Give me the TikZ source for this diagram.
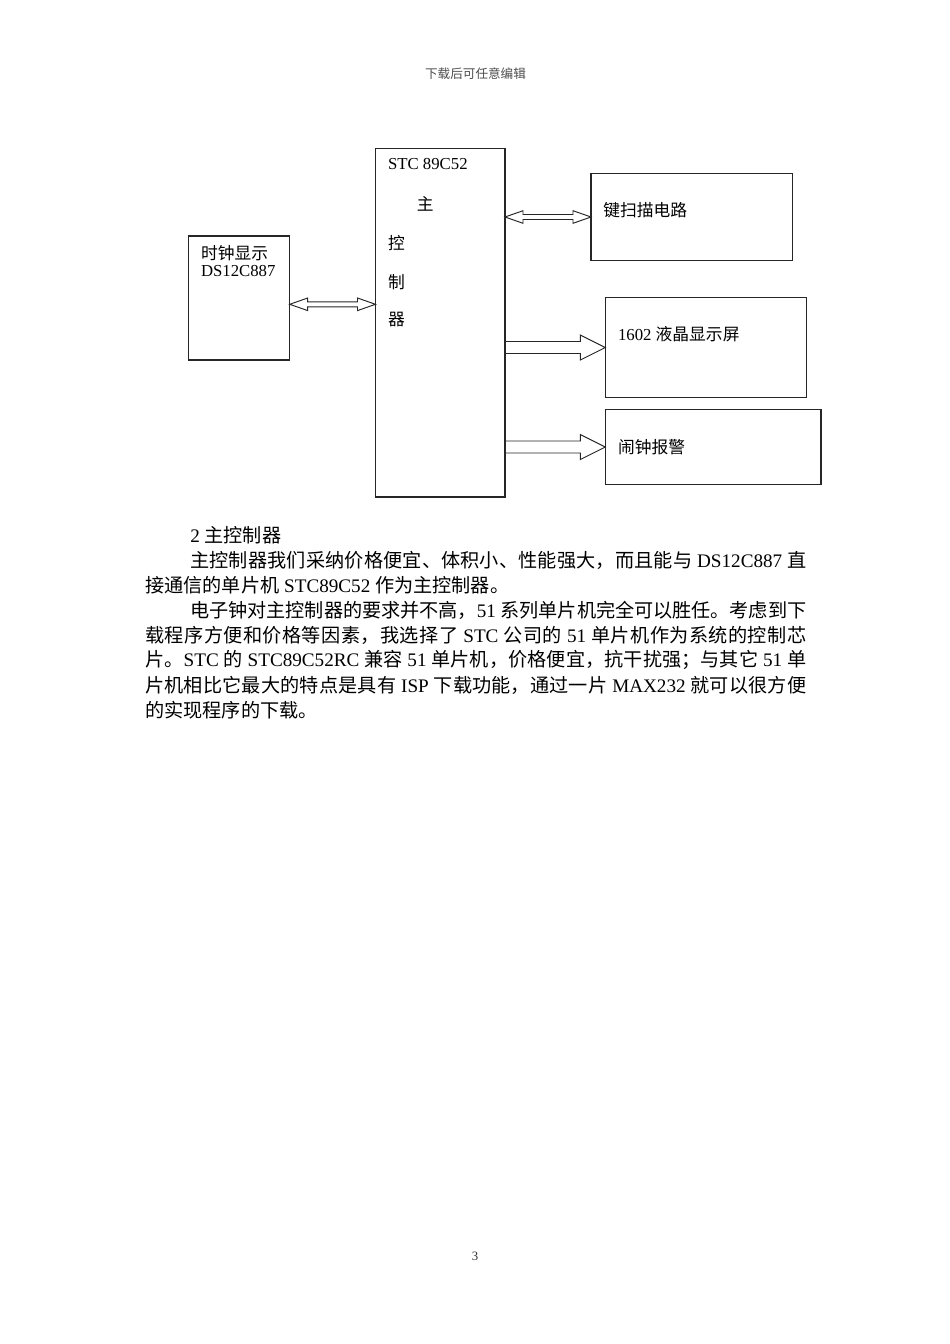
\documentclass[tikz,border=0pt]{standalone}
\usepackage{fontspec}
\setmainfont{Liberation Serif}
\newfontfamily\cjkfont{Noto Sans CJK SC}
\usetikzlibrary{calc}

% CJK characters get their own font and a little stretch between them
\chardef\cjkclass=7
\newcount\cjkcnt
\newcommand\setcjkrange[2]{%
  \cjkcnt=#1\relax
  \loop
    \XeTeXcharclass\cjkcnt=\cjkclass
  \ifnum\cjkcnt<#2\relax \advance\cjkcnt by 1 \repeat}
\setcjkrange{"3000}{"303F}
\setcjkrange{"4E00}{"9FFF}
\setcjkrange{"FF00}{"FFEF}
\XeTeXinterchartokenstate=1
\XeTeXinterchartoks 0 \cjkclass = {\cjkfont}
\XeTeXinterchartoks 4095 \cjkclass = {\cjkfont}
\XeTeXinterchartoks \cjkclass 0 = {\rmfamily}
\XeTeXinterchartoks \cjkclass 4095 = {\rmfamily}
\XeTeXinterchartoks \cjkclass \cjkclass = {\hskip0pt plus 2pt minus 0.5pt}

\newdimen\pxu
\pxu=0.6266pt

\tikzset{
  box/.style={draw=black!85, line width=0.7pt, inner sep=0pt, outer sep=0pt, anchor=north west},
  label/.style={anchor=west, inner sep=0pt},
  bodyline/.style={anchor=west, inner sep=0pt, font=\fontsize{12}{15}\selectfont},
  arrowline/.style={draw=black!85, line width=0.6pt, line join=miter}
}

\newcommand\blockarrow[2]{%
  \draw[arrowline] ($#1+(0,-6)$) -- ($#2+(-25,-6)$) -- ($#2+(-25,-12.5)$) -- #2
    -- ($#2+(-25,12.5)$) -- ($#2+(-25,6)$) -- ($#1+(0,6)$) -- cycle;}
\newcommand\dblarrow[2]{%
  \draw[arrowline] #1 -- ($#1+(18,-6.3)$) -- ($#1+(18,-2.5)$) -- ($#2+(-18,-2.5)$)
    -- ($#2+(-18,-6.3)$) -- #2 -- ($#2+(-18,6.3)$) -- ($#2+(-18,2.5)$)
    -- ($#1+(18,2.5)$) -- ($#1+(18,6.3)$) -- cycle;}

\begin{document}
\begin{tikzpicture}[x=0.6266pt, y=-0.6266pt, font=\fontsize{10.5}{13}\selectfont]
    \useasboundingbox (0,0) rectangle (950,1344);

    \node[inner sep=0pt, text=black!70, font=\fontsize{7.9}{9}\selectfont] (header) at (475.5,74) {下载后可任意编辑};

    \node[box, minimum width=101*\pxu, minimum height=124*\pxu] (clock) at (188.7,236) {};
    \node[box, minimum width=129.5*\pxu, minimum height=348.5*\pxu] (mcu) at (375.5,148.5) {};
    \node[box, minimum width=201.3*\pxu, minimum height=87.4*\pxu] (key) at (591,173.3) {};
    \node[box, minimum width=201*\pxu, minimum height=99.6*\pxu] (lcd) at (605.3,297.7) {};
    \node[box, minimum width=215.7*\pxu, minimum height=74.6*\pxu] (alarm) at (605.3,409.7) {};

    \node[label] (mcuname) at (387.7,164) {STC 89C52};
    \node[label] (mcuzhu) at (416.5,204) {主};
    \node[label] (mcukong) at (387.7,242.7) {控};
    \node[label] (mcuzhi) at (387.7,281.7) {制};
    \node[label] (mcuqi) at (387.7,320) {器};

    \node[label] (clockname) at (200.7,253.3) {时钟显示};
    \node[label] (clockchip) at (200.7,271.3) {DS12C887};
    \node[label] (keyname) at (603,210) {键扫描电路};
    \node[label] (lcdname) at (617.7,334.3) {1602 液晶显示屏};
    \node[label] (alarmname) at (617.7,446.7) {闹钟报警};

    \coordinate (clockport) at ($(clock.east)+(0,6.3)$);
    \dblarrow{(clockport)}{(mcu.west |- clockport)}
    \dblarrow{(mcu.east |- key.west)}{(key.west)}
    \blockarrow{(mcu.east |- lcd.west)}{(lcd.west)}
    \blockarrow{(mcu.east |- alarm.west)}{(alarm.west)}

    \node[bodyline] (line1) at (190,535) {2 主控制器};
    \node[bodyline] (line2) at (190,560) {\hbox to 616\pxu{主控制器我们采纳价格便宜、体积小、性能强大，而且能与 DS12C887 直}};
    \node[bodyline] (line3) at (145,585) {接通信的单片机 STC89C52 作为主控制器。};
    \node[bodyline] (line4) at (190,610) {\hbox to 616\pxu{电子钟对主控制器的要求并不高，51 系列单片机完全可以胜任。考虑到下}};
    \node[bodyline] (line5) at (145,635) {\hbox to 661\pxu{载程序方便和价格等因素，我选择了 STC 公司的 51 单片机作为系统的控制芯}};
    \node[bodyline] (line6) at (145,660) {\hbox to 661\pxu{片。STC 的 STC89C52RC 兼容 51 单片机，价格便宜，抗干扰强；与其它 51 单}};
    \node[bodyline] (line7) at (145,685) {\hbox to 661\pxu{片机相比它最大的特点是具有 ISP 下载功能，通过一片 MAX232 就可以很方便}};
    \node[bodyline] (line8) at (145,710) {的实现程序的下载。};

    \node[inner sep=0pt, text=black!80, font=\fontsize{8}{9}\selectfont] (pagenum) at (475,1256) {3};
\end{tikzpicture}
\end{document}
